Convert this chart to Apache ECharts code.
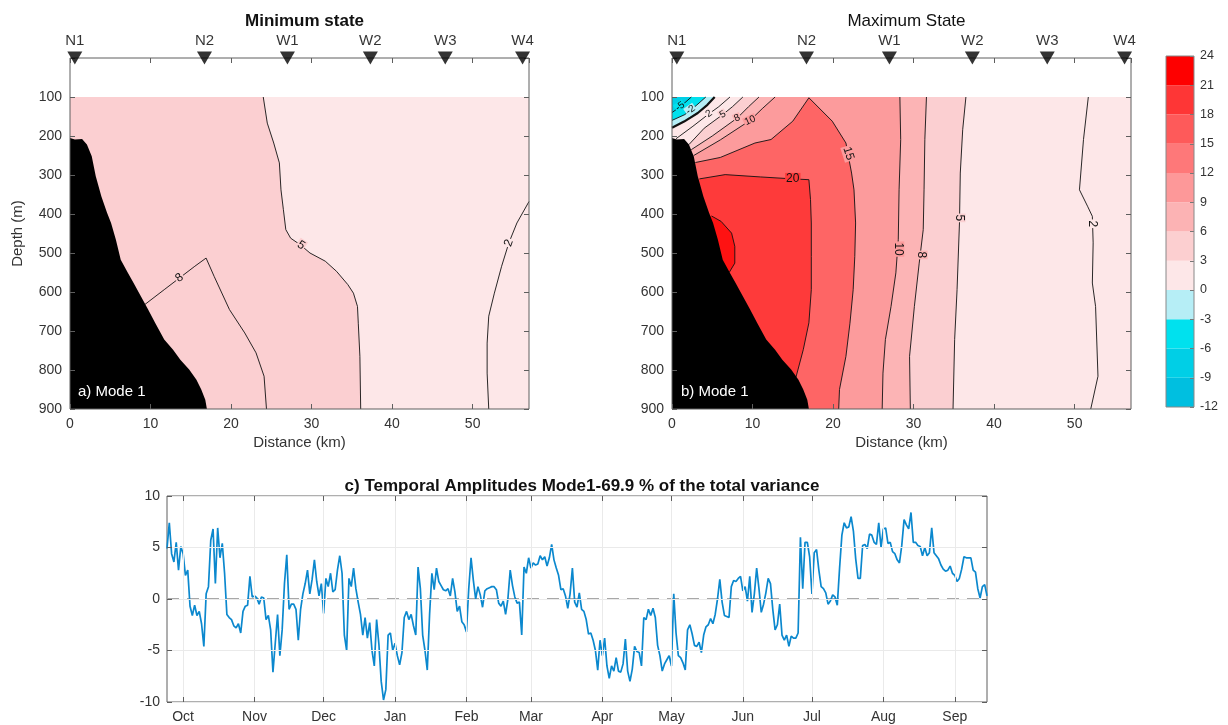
<!DOCTYPE html>
<html>
<head>
<meta charset="utf-8">
<script src="https://cdn.jsdelivr.net/npm/echarts@6/dist/echarts.min.js"></script>
<style>
  html, body { margin: 0; padding: 0; background: #fff; }
  #chart { width: 1228px; height: 725px; }
</style>
</head>
<body>
<div id="chart"></div>
<script>
// ---- data ----
// stations along the section (km)
const stationNames = ['N1', 'N2', 'W1', 'W2', 'W3', 'W4'];
const stationKm = [0.6, 16.7, 27.0, 37.3, 46.6, 56.2];

// shelf slope [distance km, depth m]
const bathy = [[0, 205], [0.6, 209], [1.5, 208], [2.1, 222], [2.7, 252], [3.2, 303], [3.9, 355], [4.6, 397],
  [5.1, 423], [5.7, 466], [6.3, 517], [7.2, 551], [7.9, 577], [8.8, 611], [9.7, 645], [10.6, 680],
  [11.7, 722], [12.8, 748], [13.7, 774], [14.8, 799], [15.7, 825], [16.3, 850], [16.8, 876], [17.0, 900]];

// a) minimum state contours
const minC5 = [[24.0, 100], [24.5, 167], [25.3, 218], [26.0, 269], [26.2, 338], [26.5, 389], [26.8, 440],
  [27.4, 462], [28.6, 479], [29.8, 500], [31.7, 521], [33.1, 547], [34.5, 581], [35.2, 603], [35.7, 637],
  [35.8, 680], [36.0, 765], [36.1, 900]];
const minC8 = [[9.3, 632], [11.7, 594], [13.6, 564], [15.5, 534], [16.9, 513], [17.9, 560], [19.8, 645],
  [21.7, 705], [23.1, 756], [24.1, 816], [24.4, 900]];
const minC2 = [[57, 368], [55.5, 423], [54.5, 474], [53.6, 534], [52.7, 603], [52.0, 662], [51.8, 731],
  [51.8, 808], [52.0, 900]];
// [km, depth, text, angle]
const minLabels = [[28.7, 480, '5', -33], [13.6, 564, '8', 37], [54.5, 474, '2', 70]];

// b) maximum state contours
const maxLm5 = [[2.4, 100], [1.2, 122], [0, 140]];
const maxLm2 = [[4.2, 100], [3.0, 122], [1.6, 145], [0, 160]];
const maxL0 = [[5.3, 100], [4.4, 120], [3.2, 141], [1.5, 163], [0, 179]];
const maxL2 = [[7.2, 100], [5.8, 125], [4.6, 143], [2.6, 175], [0.5, 207]];
const maxL5 = [[8.8, 100], [7.5, 125], [6.3, 145], [4.0, 180], [2.1, 222]];
const maxL8 = [[10.8, 100], [9.5, 125], [8.1, 154], [5.0, 200], [2.4, 235]];
const maxL10 = [[12.8, 100], [11.2, 130], [9.7, 160], [6.0, 210], [2.7, 250]];
const maxL15 = [[2.9, 268], [6.0, 255], [10.3, 218], [12.3, 209], [15.0, 162], [17.0, 102], [19.9, 162],
  [21.6, 218], [22.3, 295], [22.6, 338], [22.8, 423], [22.7, 509], [22.5, 594], [22.1, 680], [21.6, 765],
  [20.8, 850], [20.7, 900]];
const maxL20 = [[3.4, 310], [6.6, 299], [11.0, 305], [15.0, 310], [17.0, 312], [17.2, 363], [17.3, 423],
  [17.3, 509], [17.3, 594], [17.0, 679], [16.3, 748], [15.4, 818]];
const maxL22 = [[4.9, 405], [6.1, 419], [7.4, 449], [7.8, 483], [7.8, 526], [7.1, 550]];
const maxV10 = [[28.3, 100], [28.4, 209], [28.2, 338], [28.1, 466], [27.8, 551], [27.2, 637], [26.5, 722],
  [26.2, 808], [26.1, 900]];
const maxV8 = [[31.6, 100], [31.4, 209], [31.3, 338], [31.2, 440], [30.7, 526], [30.1, 637], [29.5, 765],
  [29.6, 900]];
const maxV5 = [[36.5, 100], [36.1, 184], [35.8, 295], [35.7, 423], [35.4, 594], [35.1, 722], [34.9, 900]];
const maxV2 = [[51.7, 100], [51.1, 209], [50.6, 338], [51.6, 380], [52.2, 406], [52.3, 474], [52.2, 577],
  [52.6, 637], [52.9, 816], [52.0, 900]];
const maxLabels = [[1.0, 124, '-5', 35], [2.3, 133, '-2', 35], [4.6, 143, '2', 35], [6.3, 145, '5', 30],
  [8.1, 154, '8', 25], [9.7, 160, '10', 25], [21.9, 245, '15', -72], [15.0, 310, '20', 0],
  [28.1, 490, '10', -90], [31.0, 505, '8', -90], [35.7, 410, '5', -90], [52.2, 425, '2', -90]];

// colour bar levels
const cbLevels = [-12, -9, -6, -3, 0, 3, 6, 9, 12, 15, 18, 21, 24];

// c) temporal amplitude, daily from 24 Sep
const ampStart = [2013, 8, 24];
const ampEnd = [2014, 8, 15];
const monthNames = ['Oct', 'Nov', 'Dec', 'Jan', 'Feb', 'Mar', 'Apr', 'May', 'Jun', 'Jul', 'Aug', 'Sep'];
const amp = [
  4.9, 7.4, 4.4, 3.6, 5.5, 2.8, 5.1, 4.4, 2.3, 2.8,
  -0.7, -1.6, -0.6, -1.6, -1.2, -2.4, -4.6, 0.5, 1.2, 5.7,
  6.8, 1.5, 6.9, 4.0, 5.4, 2.5, -1.5, -1.8, -2.0, -2.6,
  -2.8, -2.4, -3.3, -1.2, -0.7, -0.6, 2.2, 0.2, 0.3, 0.1,
  -0.5, 0.2, 0.1, -2.0, -1.6, -3.0, -7.1, -4.3, -1.5, -5.5,
  -3.0, 1.5, 4.3, -1.0, -0.5, -0.5, -1.0, -4.0, -1.0, 0.5,
  1.5, 2.8, 0.5, 1.9, 3.8, 1.7, 0.3, 1.5, -1.4, 2.0,
  1.2, 2.5, 0.7, 0.9, 2.8, 4.2, 2.5, -3.5, -5.0, 2.0,
  1.2, 3.0, 1.0, -0.3, -1.5, -3.5, -1.8, -3.8, -2.3, -5.0,
  -6.5, -2.0, -4.4, -8.0, -9.8, -8.8, -3.5, -3.3, -5.0, -4.3,
  -5.5, -6.4, -5.2, -1.8, -1.2, -2.0, -1.5, -2.6, -3.5, 3.1,
  1.0, -3.5, -5.0, -6.9, -1.5, 2.5, 0.9, 3.0, 1.7, 1.3,
  0.9, 0.8, 1.0, 0.3, 2.0, 0.7, -1.2, -0.7, -2.2, -2.5,
  -3.2, 1.0, 4.0, 1.8, 0.0, 1.2, 0.4, -0.8, 0.8, 1.0,
  1.1, 1.2, 1.2, 0.9, -0.4, -0.7, -0.2, -1.5, 0.0, 2.8,
  1.3, 0.2, -0.4, -0.3, -3.5, 3.1, 2.5, 4.0, 3.0, 3.5,
  3.3, 3.4, 4.2, 3.8, 4.1, 3.2, 4.0, 5.3, 3.8, 3.0,
  2.3, 0.9, 1.0, 0.3, -0.9, 0.5, 3.0, -0.3, -0.8, 0.6,
  -1.0, -1.2, -2.0, -3.4, -3.3, -4.0, -5.0, -6.9, -4.0, -5.5,
  -3.8, -6.5, -7.7, -6.5, -7.0, -5.7, -7.0, -7.1, -6.3, -3.9,
  -7.0, -8.0, -6.8, -4.6, -5.1, -5.2, -6.5, -1.8, -2.0, -1.0,
  -1.6, -0.9, -1.8, -4.5, -5.5, -7.0, -6.3, -5.9, -5.5, -6.5,
  0.5, -3.3, -5.5, -5.7, -6.2, -6.9, -3.0, -2.5, -3.4, -4.5,
  -4.6, -4.2, -5.2, -3.5, -2.7, -2.5, -1.9, -2.4, -1.5, 0.0,
  1.9, -0.3, -1.6, -1.7, -1.8, 1.2, 1.8, 1.7, 2.0, 2.2,
  0.8, 1.2, -0.2, 2.2, -1.3, 0.5, 3.0, 1.0, -1.3, -0.5,
  0.6, 2.0, 1.5, -1.0, -3.0, -2.5, -0.5, -3.5, -4.0, -3.5,
  -4.6, -3.6, -3.8, -3.8, -3.3, 6.0, 1.0, 5.5, 5.5, 4.1,
  0.5, 4.5, 4.8, 2.8, 1.2, 1.0, 0.6, -0.5, -0.2, 0.4,
  0.2, -0.6, 3.0, 6.2, 7.4, 6.9, 7.0, 8.0, 6.6, 3.9,
  2.0, 2.0, 5.2, 5.3, 4.9, 6.3, 6.2, 5.5, 5.3, 7.4,
  5.0, 6.8, 6.9, 5.4, 5.5, 4.6, 4.4, 3.8, 3.5, 5.2,
  7.7, 7.2, 6.8, 8.4, 5.5, 5.5, 5.2, 5.1, 4.2, 5.0,
  4.2, 4.5, 6.9, 4.5, 4.2, 3.9, 3.3, 2.9, 2.7, 2.8,
  3.2, 2.5, 2.3, 1.7, 2.0, 2.9, 4.1, 4.0, 4.0, 4.0,
  2.8, 2.6, 1.0, 0.1, 1.2, 1.4, 0.3
];

// ---- styling ----
const FONT = '"Liberation Sans", Arial, Helvetica, sans-serif';
const AX = '#5e5e5e';
const TXT = '#333';
const cbColors = ['#00BFE0', '#00CFE6', '#00E1EE', '#B6EEF6', '#FDE7E8', '#FCCFD0', '#FCB3B4',
  '#FD9899', '#FE7879', '#FE5A5A', '#FE3636', '#FE0000'];
const C03 = '#FDE7E8', C36 = '#FBCFD1', C69 = '#FCB4B5', C912 = '#FC9B9C',
  C1518 = '#FE6565', C1821 = '#FE3A3A', C2124 = '#FE1212';
const minLabelBg = [C36, C36, C03];
const maxLabelBg = ['#00E1EE', '#B6EEF6', C03, C36, C69, C912, C912, C1821, C912, C69, C36, C03];

const chart = echarts.init(document.getElementById('chart'));

function area(ax, pts, color, z) {
  return {
    type: 'custom', xAxisIndex: ax, yAxisIndex: ax, silent: true, z: z || 1,
    data: [[pts[0][0], pts[0][1]]],
    renderItem: function (params, api) {
      return {
        type: 'polygon',
        shape: { points: pts.map(p => api.coord(p)) },
        style: { fill: color }
      };
    }
  };
}

function contour(ax, pts, width) {
  return {
    type: 'line', xAxisIndex: ax, yAxisIndex: ax, data: pts, silent: true, z: 3,
    showSymbol: false, symbol: 'none',
    lineStyle: { color: '#111', width: width || 0.9 }
  };
}

function labels(ax, list, bgs, size) {
  return {
    type: 'custom', xAxisIndex: ax, yAxisIndex: ax, silent: true, z: 5,
    data: list.map(l => [l[0], l[1]]),
    renderItem: function (params, api) {
      const l = list[params.dataIndex];
      const p = api.coord([l[0], l[1]]);
      return {
        type: 'text', x: p[0], y: p[1], rotation: l[3] * Math.PI / 180,
        style: {
          text: l[2], fill: '#111', fontSize: size, fontFamily: FONT,
          align: 'center', verticalAlign: 'middle',
          backgroundColor: bgs[params.dataIndex], padding: [0, 1]
        }
      };
    }
  };
}

function stations(ax) {
  return {
    type: 'scatter', xAxisIndex: ax, yAxisIndex: ax, silent: true, z: 8, clip: false,
    data: stationKm.map(k => [k, 0]),
    symbol: 'triangle', symbolRotate: 180, symbolSize: [15, 13],
    itemStyle: { color: '#000' },
    label: {
      show: true, position: 'top', distance: 3, fontSize: 15, color: '#000', fontFamily: FONT,
      formatter: p => stationNames[p.dataIndex]
    }
  };
}

const tick = { inside: true, length: 5, lineStyle: { color: AX } };
const noLine = { show: false, onZero: false };
const lbl = { fontSize: 14, color: TXT, fontFamily: FONT };

function sectionAxes(grid, withName) {
  const xb = {
    type: 'value', gridIndex: grid, min: 0, max: 57, interval: 10, position: 'bottom', z: 6,
    name: 'Distance (km)', nameLocation: 'middle', nameGap: 26,
    nameTextStyle: { fontSize: 15, color: TXT, fontFamily: FONT },
    axisLine: noLine, axisTick: tick,
    axisLabel: Object.assign({ margin: 8, showMaxLabel: false }, lbl), splitLine: { show: false }
  };
  const xt = {
    type: 'value', gridIndex: grid, min: 0, max: 57, interval: 10, position: 'top', z: 6,
    axisLine: noLine, axisTick: tick, axisLabel: { show: false }, splitLine: { show: false }
  };
  const yl = {
    type: 'value', gridIndex: grid, min: 0, max: 900, interval: 100, inverse: true, position: 'left', z: 6,
    axisLine: noLine, axisTick: tick, splitLine: { show: false },
    axisLabel: Object.assign({ margin: 8, formatter: v => (v === 0 ? '' : v) }, lbl)
  };
  if (withName) {
    Object.assign(yl, {
      name: 'Depth (m)', nameLocation: 'middle', nameGap: 45, nameRotate: 90,
      nameTextStyle: { fontSize: 15, color: TXT, fontFamily: FONT }
    });
  }
  const yr = {
    type: 'value', gridIndex: grid, min: 0, max: 900, interval: 100, inverse: true, position: 'right', z: 6,
    axisLine: noLine, axisTick: tick, axisLabel: { show: false }, splitLine: { show: false }
  };
  return [[xb, xt], [yl, yr]];
}

const left = sectionAxes(0, true);
const right = sectionAxes(1, false);

// time axis as day count from the first sample
const DAY = 86400000;
const t0 = new Date(ampStart[0], ampStart[1], ampStart[2]);
const dayOf = d => Math.round((d - t0) / DAY);
const monthDays = monthNames.map((m, i) => dayOf(new Date(ampStart[0], ampStart[1] + 1 + i, 1)));
const lastDay = dayOf(new Date(ampEnd[0], ampEnd[1], ampEnd[2]));
const ampData = amp.map((v, i) => [i, v]);

const cbBands = cbLevels.slice(0, -1).map((lo, i) => [lo, cbLevels[i + 1]]);

const series = [
  // a) minimum state
  area(0, [[0, 100], [57, 100], [57, 900], [0, 900]], C03),
  area(0, minC5.concat([[0, 900], [0, 100]]), C36),
  contour(0, minC5), contour(0, minC8), contour(0, minC2),
  area(0, bathy.concat([[0, 900]]), '#000', 4),
  labels(0, minLabels, minLabelBg, 12),
  stations(0),

  // b) maximum state
  area(2, [[0, 100], [57, 100], [57, 900], [0, 900]], C03),
  area(2, maxV5.concat([[0, 900], [0, 222]], maxL5.slice().reverse()), C36),
  area(2, maxV8.concat([[0, 900], [0, 235]], maxL8.slice().reverse()), C69),
  area(2, maxV10.concat([[0, 900], [0, 250]], maxL10.slice().reverse()), C912),
  area(2, maxL15.concat([[0, 900], [0, 268]]), C1518),
  area(2, maxL20.concat([[0, 818], [0, 310]]), C1821),
  area(2, maxL22.concat([[0, 550], [0, 405]]), C2124),
  area(2, maxL0.concat([[0, 100]]), '#B6EEF6'),
  area(2, maxLm2.concat([[0, 100]]), '#00E1EE'),
  area(2, maxLm5.concat([[0, 100]]), '#00CFE6'),
  contour(2, maxLm5), contour(2, maxLm2), contour(2, maxL0, 2.2), contour(2, maxL2), contour(2, maxL5),
  contour(2, maxL8), contour(2, maxL10), contour(2, maxL15), contour(2, maxL20), contour(2, maxL22),
  contour(2, maxV10), contour(2, maxV8), contour(2, maxV5), contour(2, maxV2),
  area(2, bathy.concat([[0, 900]]), '#000', 4),
  labels(2, maxLabels.slice(0, 6), maxLabelBg.slice(0, 6), 10),
  labels(2, maxLabels.slice(6), maxLabelBg.slice(6), 12),
  stations(2),

  // colour bar
  {
    type: 'custom', xAxisIndex: 4, yAxisIndex: 4, silent: true,
    data: cbBands,
    renderItem: function (params, api) {
      const a = api.coord([0, api.value(1)]);
      const b = api.coord([1, api.value(0)]);
      return {
        type: 'rect',
        shape: { x: a[0], y: a[1], width: b[0] - a[0], height: b[1] - a[1] },
        style: { fill: cbColors[params.dataIndex] }
      };
    }
  },

  // c) temporal amplitudes: zero reference, then the series
  {
    type: 'line', xAxisIndex: 5, yAxisIndex: 5, data: [[0, 0], [lastDay, 0]], silent: true, z: 3,
    showSymbol: false, symbol: 'none',
    lineStyle: { color: '#A8A8A8', width: 2, type: [12, 8] }
  },
  {
    type: 'line', xAxisIndex: 5, yAxisIndex: 5, data: ampData, silent: true, z: 4,
    showSymbol: false, symbol: 'none',
    lineStyle: { color: '#0B88CE', width: 1.7 }
  }
];

const option = {
  animation: false,
  backgroundColor: '#fff',
  title: [
    { text: 'Minimum state', left: 299.5, top: 8, textAlign: 'center',
      textStyle: { fontSize: 17, fontWeight: 'bold', color: '#111', fontFamily: FONT } },
    { text: 'Maximum State', left: 901.5, top: 8, textAlign: 'center',
      textStyle: { fontSize: 17, fontWeight: 'normal', color: '#111', fontFamily: FONT } },
    { text: 'c) Temporal Amplitudes Mode1-69.9 % of the total variance', left: 577, top: 473, textAlign: 'center',
      textStyle: { fontSize: 17, fontWeight: 'bold', color: '#111', fontFamily: FONT } }
  ],
  grid: [
    { left: 70, top: 58, width: 459, height: 351, show: true, borderColor: AX, borderWidth: 1, z: 7 },
    { left: 672, top: 58, width: 459, height: 351, show: true, borderColor: AX, borderWidth: 1, z: 7 },
    { left: 1166, top: 56, width: 28, height: 351, show: true, borderColor: '#888', borderWidth: 1, z: 7 },
    { left: 167, top: 496, width: 820, height: 206, show: true, borderColor: AX, borderWidth: 1 }
  ],
  xAxis: [
    left[0][0], left[0][1], right[0][0], right[0][1],
    { type: 'value', gridIndex: 2, min: 0, max: 1, show: false },
    {
      type: 'value', gridIndex: 3, min: 0, max: lastDay, position: 'bottom', z: 6,
      axisLine: noLine,
      axisTick: Object.assign({ customValues: monthDays }, tick),
      axisLabel: Object.assign({
        customValues: monthDays, margin: 8,
        formatter: v => monthNames[monthDays.indexOf(v)]
      }, lbl),
      splitLine: { show: true, lineStyle: { color: '#EAEAEA', width: 1 } }
    },
    {
      type: 'value', gridIndex: 3, min: 0, max: lastDay, position: 'top', z: 6,
      axisLine: noLine,
      axisTick: Object.assign({ customValues: monthDays }, tick),
      axisLabel: { show: false }, splitLine: { show: false }
    }
  ],
  yAxis: [
    left[1][0], left[1][1], right[1][0], right[1][1],
    {
      type: 'value', gridIndex: 2, min: -12, max: 24, interval: 3, position: 'right', z: 6,
      axisLine: noLine, axisTick: { inside: true, length: 4, lineStyle: { color: '#777' } },
      axisLabel: { fontSize: 12.5, color: TXT, fontFamily: FONT, margin: 6 }, splitLine: { show: false }
    },
    {
      type: 'value', gridIndex: 3, min: -10, max: 10, interval: 5, position: 'left', z: 6,
      axisLine: noLine, axisTick: tick,
      axisLabel: Object.assign({ margin: 7 }, lbl),
      splitLine: { show: true, lineStyle: { color: '#EAEAEA', width: 1 } }
    },
    {
      type: 'value', gridIndex: 3, min: -10, max: 10, interval: 5, position: 'right', z: 6,
      axisLine: noLine, axisTick: tick, axisLabel: { show: false }, splitLine: { show: false }
    }
  ],
  graphic: [
    { type: 'text', left: 78, top: 384, z: 100,
      style: { text: 'a) Mode 1', fill: '#fff', fontSize: 15, fontFamily: FONT } },
    { type: 'text', left: 681, top: 384, z: 100,
      style: { text: 'b) Mode 1', fill: '#fff', fontSize: 15, fontFamily: FONT } }
  ],
  series: series
};

chart.setOption(option);
</script>
</body>
</html>
